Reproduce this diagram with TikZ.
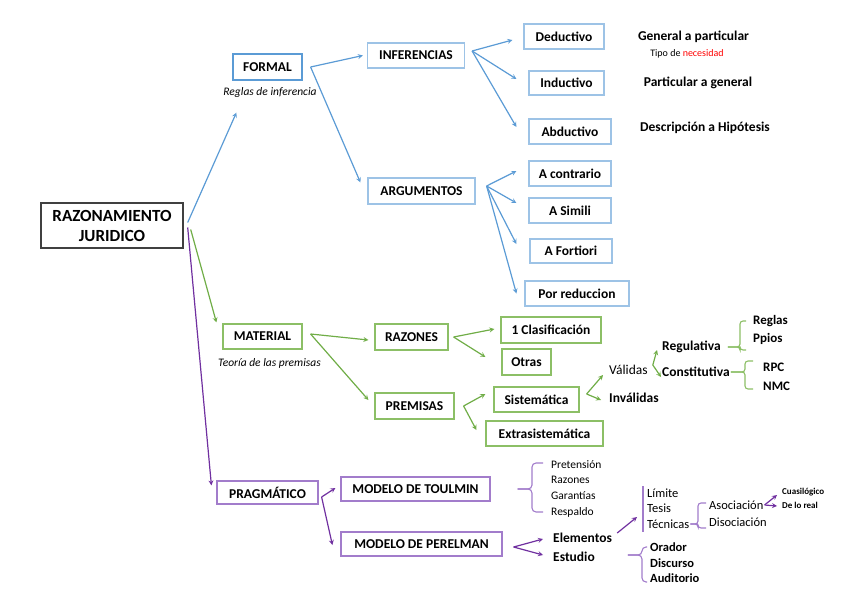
\documentclass[tikz,border=0pt]{standalone}
\usepackage{fontspec}
\setmainfont{Carlito}
\usetikzlibrary{arrows}
\definecolor{azul}{HTML}{5B9BD5}
\definecolor{azulclaro}{HTML}{9DC3E6}
\definecolor{verde}{HTML}{70AD47}
\definecolor{verdeclaro}{HTML}{8CBF66}
\definecolor{morado}{HTML}{7030A0}
\definecolor{moradoclaro}{HTML}{A27CCB}
\definecolor{gris}{HTML}{404040}
\tikzstyle{raiz} = [rectangle, draw=gris, line width=1.4pt, align=center,
minimum width=142pt, minimum height=45pt,
font=\fontsize{17}{20}\selectfont\bfseries]
\tikzstyle{caja} = [rectangle, line width=1.2pt, inner sep=0pt,
minimum height=25pt,
font=\fontsize{13.5}{16}\selectfont\bfseries]
\tikzstyle{cajaazul} = [caja, draw=azulclaro]
\tikzstyle{cajaverde} = [caja, draw=verdeclaro]
\tikzstyle{cajamorada} = [caja, draw=moradoclaro]
\tikzstyle{nota} = [inner sep=0pt, font=\fontsize{11.5}{14}\selectfont\itshape]
\tikzstyle{texto} = [inner sep=0pt, anchor=west, font=\fontsize{13.5}{16}\selectfont\bfseries]
\tikzstyle{textofino} = [inner sep=0pt, anchor=west, font=\fontsize{12.5}{15}\selectfont]
\tikzstyle{textochico} = [inner sep=0pt, anchor=west, font=\fontsize{11.5}{14}\selectfont]
\tikzstyle{textomini} = [inner sep=0pt, anchor=west, font=\fontsize{9}{11}\selectfont\bfseries]
\tikzstyle{flechaazul} = [draw=azul, line width=1.2pt, ->, >=stealth]
\tikzstyle{flechaverde} = [draw=verde, line width=1.2pt, ->, >=stealth]
\tikzstyle{flechamorada} = [draw=morado, line width=1.2pt, ->, >=stealth]
\tikzstyle{llaveverde} = [draw=verdeclaro, line width=1.1pt, rounded corners=3pt]
\tikzstyle{llavemorada} = [draw=moradoclaro, line width=1.1pt, rounded corners=4pt]

\begin{document}
\begin{tikzpicture}[x=1pt, y=-1pt]
    \useasboundingbox (0,0) rectangle (848,599);
    % raiz
    \node (raz) [raiz] at (112,225.5) {RAZONAMIENTO\\JURIDICO};
    % rama formal
    \node (formal) [caja, draw=azul, minimum width=69pt, minimum height=26pt] at (267.5,67) {FORMAL};
    \node (reglasinf) [nota] at (270,92) {Reglas de inferencia};
    \node (infer) [cajaazul, minimum width=97pt] at (416,55.5) {INFERENCIAS};
    \node (argum) [cajaazul, minimum width=107pt, minimum height=26pt] at (421.5,191) {ARGUMENTOS};
    \node (deduct) [cajaazul, minimum width=80pt] at (564,36.5) {Deductivo};
    \node (induct) [cajaazul, minimum width=75pt, minimum height=24pt] at (566.5,83) {Inductivo};
    \node (abduct) [cajaazul, minimum width=82pt] at (570,131.5) {Abductivo};
    \node (contra) [cajaazul, minimum width=82pt] at (570,173.5) {A contrario};
    \node (simili) [cajaazul, minimum width=82pt] at (570,210.5) {A Simili};
    \node (fortiori) [cajaazul, minimum width=82pt, minimum height=24pt] at (571,251) {A Fortiori};
    \node (reduc) [cajaazul, minimum width=104pt] at (577,293.5) {Por reduccion};
    \node (general) [texto, anchor=center] at (693.5,37) {General a particular};
    \node (tipo) [inner sep=0pt, font=\fontsize{10}{12}\selectfont] at (687,54) {Tipo de \textcolor{red}{necesidad}};
    \node (partic) [texto, anchor=center] at (698,83) {Particular a general};
    \node (descr) [texto, anchor=center] at (705,128) {Descripción a Hipótesis};
    % rama material
    \node (material) [cajaverde, minimum width=79pt] at (262.5,336.5) {MATERIAL};
    \node (teoria) [nota] at (269.5,363) {Teoría de las premisas};
    \node (razones) [cajaverde, minimum width=73pt, minimum height=26pt] at (411.5,337) {RAZONES};
    \node (premisas) [cajaverde, minimum width=79pt, minimum height=26pt] at (414.5,406) {PREMISAS};
    \node (clasif) [cajaverde, minimum width=100pt, minimum height=26pt] at (551,330) {1 Clasificación};
    \node (otras) [cajaverde, minimum width=49pt, minimum height=26pt] at (526.5,362) {Otras};
    \node (sist) [cajaverde, minimum width=85pt] at (536.5,399.5) {Sistemática};
    \node (extra) [cajaverde, minimum width=117pt] at (544.5,433.5) {Extrasistemática};
    \node (validas) [texto, font=\fontsize{13.5}{16}\selectfont] at (609,370) {Válidas};
    \node (invalidas) [texto] at (609,398) {Inválidas};
    \node (regul) [texto] at (662,347) {Regulativa};
    \node (constit) [texto] at (662,372) {Constitutiva};
    \node (reglas) [texto, font=\fontsize{13}{16}\selectfont\bfseries] at (753,321) {Reglas};
    \node (ppios) [texto, font=\fontsize{13}{16}\selectfont\bfseries] at (753,339) {Ppios};
    \node (rpc) [texto, font=\fontsize{13}{16}\selectfont\bfseries] at (763,367) {RPC};
    \node (nmc) [texto, font=\fontsize{13}{16}\selectfont\bfseries] at (763,386) {NMC};
    % rama pragmatica
    \node (prag) [cajamorada, minimum width=101pt, minimum height=23pt] at (267.5,492.5) {PRAGMÁTICO};
    \node (toulmin) [cajamorada, minimum width=149pt, minimum height=24pt] at (415.5,489) {MODELO DE TOULMIN};
    \node (perelman) [cajamorada, minimum width=161pt, minimum height=24pt] at (421.5,544) {MODELO DE PERELMAN};
    \node (pret) [textochico] at (551,465) {Pretensión};
    \node (razt) [textochico] at (551,480) {Razones};
    \node (gar) [textochico] at (551,496) {Garantías};
    \node (resp) [textochico] at (551,512) {Respaldo};
    \node (elem) [texto] at (553,538) {Elementos};
    \node (estud) [texto] at (553,557) {Estudio};
    \node (lim) [textofino] at (647,493) {Límite};
    \node (tes) [textofino] at (647,508) {Tesis};
    \node (tec) [textofino] at (647,524) {Técnicas};
    \node (asoc) [textofino] at (709,505) {Asociación};
    \node (disoc) [textofino] at (709,522) {Disociación};
    \node (cuasi) [textomini] at (782,492) {Cuasilógico};
    \node (delo) [textomini] at (782,505) {De lo real};
    \node (orador) [texto, font=\fontsize{12.5}{15}\selectfont\bfseries] at (650,547) {Orador};
    \node (disc) [texto, font=\fontsize{12.5}{15}\selectfont\bfseries] at (650,563) {Discurso};
    \node (audit) [texto, font=\fontsize{12.5}{15}\selectfont\bfseries] at (650,578) {Auditorio};
    % flechas azules
    \draw [flechaazul] ([shift={(4pt,3pt)}]raz.east) -- ([shift={(4pt,-32pt)}]formal.south west);
    \draw [flechaazul] ([xshift=8pt]formal.east) -- ([xshift=-4pt]infer.west);
    \draw [flechaazul] ([xshift=8pt]formal.east) -- ([shift={(-7pt,-5pt)}]argum.north west);
    \draw [flechaazul] ([shift={(7pt,4.5pt)}]infer.east) -- ([shift={(-11pt,-3.5pt)}]deduct.west);
    \draw [flechaazul] ([shift={(7pt,4.5pt)}]infer.east) -- ([shift={(-12pt,4pt)}]induct.west);
    \draw [flechaazul] ([shift={(7pt,4.5pt)}]infer.east) -- ([shift={(-12pt,4.5pt)}]abduct.west);
    \draw [flechaazul] ([shift={(11pt,5pt)}]argum.east) -- ([shift={(-12pt,2.5pt)}]contra.west);
    \draw [flechaazul] ([shift={(11pt,5pt)}]argum.east) -- ([shift={(-12pt,7.5pt)}]simili.west);
    \draw [flechaazul] ([shift={(11pt,5pt)}]argum.east) -- ([shift={(-13pt,7pt)}]fortiori.west);
    \draw [flechaazul] ([shift={(11pt,5pt)}]argum.east) -- ([xshift=-8pt]reduc.west);
    % flechas verdes
    \draw [flechaverde] ([shift={(7pt,-4pt)}]raz.east) -- ([shift={(-6pt,1pt)}]material.north west);
    \draw [flechaverde] ([shift={(8pt,2.5pt)}]material.east) -- ([shift={(-6pt,-3pt)}]razones.west);
    \draw [flechaverde] ([shift={(8pt,2.5pt)}]material.east) -- ([shift={(-6pt,6pt)}]premisas.west);
    \draw [flechaverde] ([xshift=5pt]razones.east) -- ([shift={(-6pt,1pt)}]clasif.west);
    \draw [flechaverde] ([xshift=5pt]razones.east) -- ([shift={(-16pt,5pt)}]otras.west);
    \draw [flechaverde] ([xshift=9pt]premisas.east) -- ([shift={(-8pt,5.5pt)}]sist.west);
    \draw [flechaverde] ([xshift=9pt]premisas.east) -- ([shift={(-9pt,3.5pt)}]extra.west);
    \draw [flechaverde] ([shift={(7pt,5.5pt)}]sist.east) -- ([shift={(-6pt,-5pt)}]validas.west);
    \draw [flechaverde] ([shift={(7pt,5.5pt)}]sist.east) -- ([shift={(-8pt,-2pt)}]invalidas.west);
    \draw [flechaverde, <->] ([shift={(-5pt,-3pt)}]regul.west) -- ([shift={(5pt,5pt)}]validas.east) -- ([shift={(-1pt,-5pt)}]constit.west);
    % llaves verdes
    \draw [llaveverde] ([xshift=7pt]regul.east) -- (740,347) -- (740,321) -- (746,321);
    \draw [llaveverde] ([xshift=7pt]regul.east) -- (740,347) -- (740,350) -- (746,350);
    \draw [llaveverde] ([xshift=1pt]constit.east) -- (745,372) -- (745,361) -- (753,361);
    \draw [llaveverde] ([xshift=1pt]constit.east) -- (745,372) -- (745,389) -- (753,389);
    % flechas moradas
    \draw [flechamorada] ([shift={(4pt,-2pt)}]raz.east) -- ([shift={(-5pt,-5pt)}]prag.north west);
    \draw [flechamorada] ([shift={(3pt,-4.5pt)}]prag.east) -- ([shift={(-5pt,1pt)}]toulmin.west);
    \draw [flechamorada] ([shift={(3pt,-4.5pt)}]prag.east) -- ([shift={(-8pt,-1pt)}]perelman.west);
    \draw [flechamorada] ([shift={(11pt,-3pt)}]perelman.east) -- ([shift={(-10pt,-1pt)}]elem.west);
    \draw [flechamorada] ([shift={(11pt,-3pt)}]perelman.east) -- ([shift={(-10pt,2pt)}]estud.west);
    \draw [flechamorada] ([shift={(5pt,5pt)}]elem.east) -- ([shift={(-10pt,7pt)}]tec.west);
    \draw [flechamorada] ([xshift=1pt]asoc.east) -- ([shift={(-5pt,-3pt)}]cuasi.west);
    \draw [flechamorada] ([xshift=1pt]asoc.east) -- ([shift={(-5pt,-1pt)}]delo.west);
    % llaves moradas
    \draw [llavemorada] ([xshift=27pt]toulmin.east) -- (532,489) -- (532,463) -- (543,463);
    \draw [llavemorada] ([xshift=27pt]toulmin.east) -- (532,489) -- (532,512) -- (543,512);
    \draw [llavemorada] ([shift={(-4pt,2pt)}]lim.north west) -- ([shift={(-4pt,-3pt)}]tec.south west);
    \draw [llavemorada, rounded corners=3pt] ([xshift=1pt]tec.east) -- (698,524) -- (698,503) -- (706,503);
    \draw [llavemorada, rounded corners=3pt] ([xshift=1pt]tec.east) -- (698,524) -- (698,528) -- (706,528);
    \draw [llavemorada] ([shift={(33pt,2pt)}]estud.east) -- (642,555) -- (642,547) -- (647,547);
    \draw [llavemorada] ([shift={(33pt,2pt)}]estud.east) -- (642,555) -- (642,582) -- (647,582);
\end{tikzpicture}
\end{document}
